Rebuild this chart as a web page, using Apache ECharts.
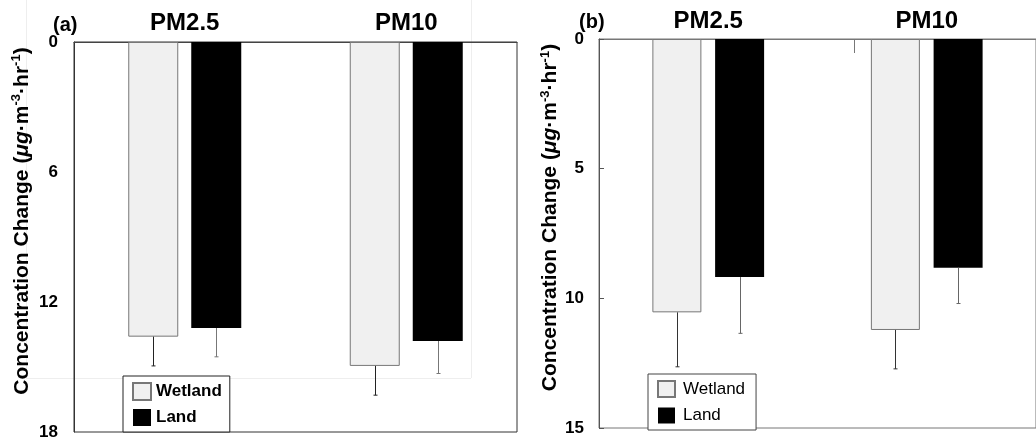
<!DOCTYPE html>
<html>
<head>
<meta charset="utf-8">
<script src="https://cdn.jsdelivr.net/npm/echarts@6/dist/echarts.min.js"></script>
<style>
  html, body { margin: 0; padding: 0; background: #fff; }
  #chart { width: 1036px; height: 441px; }
</style>
</head>
<body>
<div id="chart"></div>
<script>
// data
const categories = ['PM2.5', 'PM10']

const wetlandA = [13.6, 14.95]
const wetlandErrA = [1.35, 1.35]
const landA = [13.2, 13.8]
const landErrA = [1.33, 1.5]

const wetlandB = [10.54, 11.22]
const wetlandErrB = [2.1, 1.5]
const landB = [9.18, 8.82]
const landErrB = [2.17, 1.38]

const ticksA = { max: 18, interval: 6 }
const ticksB = { max: 15, interval: 5 }

const FONT = '"Liberation Sans", Arial, sans-serif'

const chart = echarts.init(document.getElementById('chart'))

const yName = '{b|Concentration Change (}{i|μg}{b|·m}{s|-3}{b|·hr}{s|-1}{b|)}'
const yNameRich = {
  b: { fontFamily: FONT, fontWeight: 'bold', fontSize: 21, lineHeight: 24, color: '#000' },
  i: { fontFamily: FONT, fontWeight: 'bold', fontStyle: 'italic', fontSize: 21, lineHeight: 24, color: '#000' },
  s: { fontFamily: FONT, fontWeight: 'bold', fontSize: 13, lineHeight: 13, verticalAlign: 'top', color: '#000' },
}

const errorSeries = (name, values, errs, offset, color, axis) => ({
  type: 'custom',
  name: name + ' err',
  xAxisIndex: axis,
  yAxisIndex: axis,
  z: 3,
  data: values.map((v, i) => [i, v, errs[i]]),
  renderItem: (params, api) => {
    const p0 = api.coord([api.value(0), api.value(1)])
    const p1 = api.coord([api.value(0), api.value(1) + api.value(2)])
    const x = Math.round(p0[0] + offset) + 0.5
    const style = { stroke: color, lineWidth: 1 }
    return {
      type: 'group',
      children: [
        { type: 'line', shape: { x1: x, y1: p0[1], x2: x, y2: p1[1] }, style },
        { type: 'line', shape: { x1: x - 2, y1: p1[1], x2: x + 2, y2: p1[1] }, style },
      ],
    }
  },
})

const wetStyle = { color: '#f0f0f0', borderColor: '#777', borderWidth: 1 }
const landStyle = { color: '#000' }

const option = {
  animation: false,
  backgroundColor: '#fff',
  title: [
    { text: '(a)', left: 53, top: 15, padding: 0, textStyle: { fontFamily: FONT, fontWeight: 'bold', fontSize: 20, color: '#000' } },
    { text: '(b)', left: 579, top: 12, padding: 0, textStyle: { fontFamily: FONT, fontWeight: 'bold', fontSize: 20, color: '#000' } },
  ],
  legend: [
    {
      data: ['Wetland', 'Land'],
      orient: 'vertical',
      left: 123,
      top: 376,
      padding: [6, 8, 6, 9],
      itemWidth: 18,
      itemHeight: 17,
      itemGap: 8,
      borderColor: '#222',
      borderWidth: 1,
      backgroundColor: '#fff',
      selectedMode: false,
      icon: 'rect',
      textStyle: { fontFamily: FONT, fontWeight: 'bold', fontSize: 17, color: '#000' },
    },
    {
      data: ['Wetland', 'Land'],
      orient: 'vertical',
      left: 648,
      top: 374,
      padding: [6, 11, 6, 9],
      itemWidth: 17,
      itemHeight: 16,
      itemGap: 9,
      borderColor: '#444',
      borderWidth: 1,
      backgroundColor: '#fff',
      selectedMode: false,
      icon: 'rect',
      textStyle: { fontFamily: FONT, fontSize: 17, color: '#000', padding: [0, 0, 0, 3] },
    },
  ],
  grid: [
    { left: 74, top: 42, width: 443, height: 390, show: true, borderColor: '#333', borderWidth: 1, backgroundColor: 'transparent' },
    { left: 599, top: 39, width: 442, height: 389, show: true, borderColor: '#777', borderWidth: 1, backgroundColor: 'transparent' },
  ],
  xAxis: [0, 1].map(i => ({
    type: 'category',
    gridIndex: i,
    position: 'top',
    data: categories,
    axisLine: { show: true, lineStyle: { color: i ? '#777' : '#444' } },
    axisTick: { show: false },
    axisLabel: { fontFamily: FONT, fontWeight: 'bold', fontSize: 24, color: '#000', margin: i ? 6 : 7 },
  })),
  yAxis: [ticksA, ticksB].map((t, i) => ({
    type: 'value',
    gridIndex: i,
    inverse: true,
    min: 0,
    max: t.max,
    interval: t.interval,
    splitLine: { show: false },
    axisLine: { show: true, lineStyle: { color: i ? '#555' : '#333' } },
    axisTick: { show: i === 1, inside: true, length: 5, lineStyle: { color: '#555' } },
    axisLabel: { fontFamily: FONT, fontWeight: 'bold', fontSize: 17, color: '#000', margin: i ? 15 : 16 },
    name: yName,
    nameLocation: 'middle',
    nameRotate: 90,
    nameGap: i ? 35 : 40,
    nameTextStyle: { rich: yNameRich, padding: [0, 0, 0, 32] },
  })),
  series: [
    { type: 'bar', name: 'Wetland', xAxisIndex: 0, yAxisIndex: 0, data: wetlandA, barWidth: 50, barGap: '26%', itemStyle: wetStyle },
    { type: 'bar', name: 'Land', xAxisIndex: 0, yAxisIndex: 0, data: landA, barWidth: 50, barGap: '26%', itemStyle: landStyle },
    { type: 'bar', name: 'Wetland', xAxisIndex: 1, yAxisIndex: 1, data: wetlandB, barWidth: 49, barGap: '28%', itemStyle: wetStyle },
    { type: 'bar', name: 'Land', xAxisIndex: 1, yAxisIndex: 1, data: landB, barWidth: 49, barGap: '28%', itemStyle: landStyle },
    errorSeries('Wetland', wetlandA, wetlandErrA, -31.5, '#222', 0),
    errorSeries('Land', landA, landErrA, 31.5, '#777', 0),
    errorSeries('Wetland', wetlandB, wetlandErrB, -31.5, '#333', 1),
    errorSeries('Land', landB, landErrB, 31.5, '#666', 1),
  ],
  graphic: [
    // faint leftover frame lines in panel (a)
    { type: 'line', silent: true, z: -1, shape: { x1: 26.5, y1: 0, x2: 26.5, y2: 378 }, style: { stroke: '#eeeeee', lineWidth: 1 } },
    { type: 'line', silent: true, z: -1, shape: { x1: 471.5, y1: 0, x2: 471.5, y2: 378 }, style: { stroke: '#eeeeee', lineWidth: 1 } },
    { type: 'line', silent: true, z: -1, shape: { x1: 26, y1: 378.5, x2: 471, y2: 378.5 }, style: { stroke: '#eeeeee', lineWidth: 1 } },
    // stray tick in panel (b)
    { type: 'line', silent: true, shape: { x1: 854.5, y1: 39, x2: 854.5, y2: 53 }, style: { stroke: '#777', lineWidth: 1 } },
  ],
}

chart.setOption(option)
</script>
</body>
</html>
